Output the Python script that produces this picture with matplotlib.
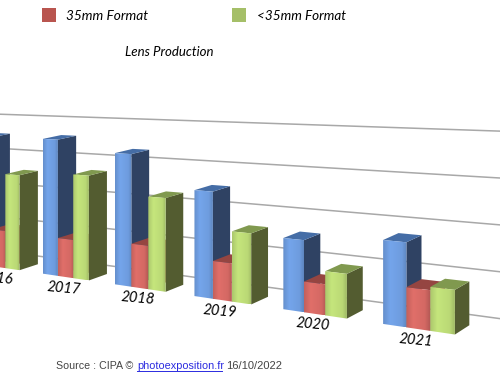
import numpy as np
import matplotlib
matplotlib.use("Agg")
import matplotlib.pyplot as plt
from matplotlib.patches import Polygon, Rectangle

years = ["2016", "2017", "2018", "2019", "2020", "2021"]
total = [35.7, 36, 33.3, 25.5, 16.2, 18]
full_frame = [10.2, 10, 10.8, 9, 6.9, 8.5]
aps = [25.8, 27.1, 23, 16.5, 9.8, 9.2]
grid_levels = [0, 10, 20, 30, 40]

bar_w = 0.217
wall_depth = 2.0

# (group pos, value/10, depth, pixel x, pixel y) used to fit the perspective
calib = [
    (1, 0, 0, 43, 273), (2, 0, 0, 114, 284), (3, 0, 0, 194, 296), (4, 0, 0, 283, 310), (5, 0, 0, 383, 325),
    (1.65, 0, 1, 108, 273), (2.65, 0, 1, 185, 285), (4.65, 0, 1, 363, 310), (5.65, 0, 1, 469, 325),
    (1.65, 0, 2, 124, 268), (1.65, 1, 2, 124, 231.5), (1.65, 2, 2, 124, 193.4), (1.65, 3, 2, 124, 156), (1.65, 4, 2, 124, 118),
    (5.65, 0, 2, 483, 315), (5.65, 1, 2, 483, 270), (5.65, 2, 2, 483, 224), (5.65, 3, 2, 483, 177), (5.65, 4, 2, 483, 130),
]

rows = []
rhs = []
for X, V, D, u, v in calib:
    rows.append([X, D, 1, 0, 0, 0, 0, -u * X, -u * D])
    rhs.append(u)
    rows.append([0, 0, 0, X, V, D, 1, -v * X, -v * D])
    rhs.append(v)
p = np.linalg.lstsq(np.array(rows, float), np.array(rhs, float), rcond=None)[0]


def proj(X, V, D):
    w = p[7] * X + p[8] * D + 1
    return (p[0] * X + p[1] * D + p[2]) / w, (p[3] * X + p[4] * V + p[5] * D + p[6]) / w


def bar(ax, X, val, front, side, top):
    V = val / 10
    x0, x1 = X, X + bar_w
    ax.add_patch(Polygon([proj(x1, 0, 0), proj(x1, 0, 1), proj(x1, V, 1), proj(x1, V, 0)], color=side, lw=0))
    ax.add_patch(Polygon([proj(x0, V, 0), proj(x1, V, 0), proj(x1, V, 1), proj(x0, V, 1)], color=top, lw=0))
    quad = Polygon([proj(x0, 0, 0), proj(x1, 0, 0), proj(x1, V, 0), proj(x0, V, 0)], transform=ax.transData, lw=0, fc="none")
    ax.add_patch(quad)
    xs = [q[0] for q in quad.get_xy()]
    ys = [q[1] for q in quad.get_xy()]
    shade = np.interp(np.linspace(0, 1, 40), [0, 0.3, 0.8, 1], [0.92, 1.06, 1.0, 0.86])
    img = np.clip(np.outer(shade, front), 0, 1)[None, :, :]
    im = ax.imshow(img, extent=(min(xs), max(xs), max(ys), min(ys)), aspect="auto", interpolation="bilinear", zorder=1)
    im.set_clip_path(quad)
    quad.set_zorder(1)


fig = plt.figure(figsize=(5, 3.83), dpi=100)
ax = fig.add_axes([0, 0, 1, 1])

for g in grid_levels:
    a = proj(-2, g / 10, wall_depth)
    b = proj(8, g / 10, wall_depth)
    ax.plot([a[0], b[0]], [a[1], b[1]], color="#a8a8a8", lw=1.1, zorder=0.5)

blue_c = ((0.43, 0.61, 0.87), "#2f4263", "#456da6")
red_c = ((0.83, 0.41, 0.39), "#8f3f3b", "#954541")
green_c = ((0.73, 0.85, 0.46), "#535c30", "#80994f")

for i, y in enumerate(years):
    bar(ax, i, total[i], *blue_c)
    bar(ax, i + bar_w, full_frame[i], *red_c)
    bar(ax, i + 2 * bar_w, aps[i], *green_c)
    lx, ly = proj(i + 1.5 * bar_w, 0, 0)
    ax.text(lx - 2, ly + 11, y, rotation=-5, ha="center", va="center", fontsize=10.5,
            style="italic", family="Lato", color="black", zorder=3)

ax.add_patch(Rectangle((42, 8), 14, 14, color="#b9554f", lw=0))
ax.add_patch(Rectangle((232, 8), 14, 14, color="#a5bf68", lw=0))
ax.text(66, 16, "35mm Format", fontsize=9.8, style="italic", family="Lato", va="center")
ax.text(257, 16, "<35mm Format", fontsize=9.7, style="italic", family="Lato", va="center")
ax.text(125, 52, "Lens Production", fontsize=9.5, style="italic", family="Lato", va="center")

ax.text(56, 366, "Source : CIPA ©", fontsize=7.7, family="Liberation Sans", color="#444444", va="center")
ax.text(137, 366, "photoexposition.fr", fontsize=7.8, family="Liberation Sans", color="#2a2ae0", va="center")
ax.plot([137, 222], [371, 371], color="#2a2ae0", lw=0.7)
ax.text(226, 366, "16/10/2022", fontsize=8, family="Liberation Sans", color="#444444", va="center")

ax.set_xlim(0, 500)
ax.set_ylim(383, 0)
ax.axis("off")
fig.savefig("out.png", dpi=100)
